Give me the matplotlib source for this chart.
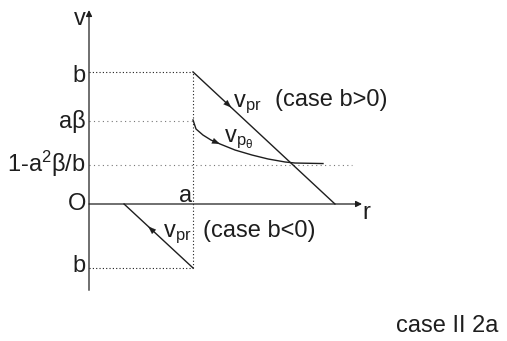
import numpy as np
import matplotlib.pyplot as plt

plt.rcParams['font.family'] = ['Liberation Sans', 'DejaVu Sans']
plt.rcParams['mathtext.fontset'] = 'custom'
plt.rcParams['mathtext.rm'] = 'Liberation Sans'
plt.rcParams['mathtext.it'] = 'Liberation Sans'

# levels and positions (units: a = 1)
a = 1.0
b_pos = 1.27
a_beta = 0.80
v_inf = 0.375          # 1 - a^2 beta / b
b_neg = -0.615

# v_pr, case b > 0
vpr_up_r = [1.0, 2.365]
vpr_up_v = [1.27, 0.0]
# v_pr, case b < 0
vpr_lo_r = [0.337, 1.0]
vpr_lo_v = [0.0, -0.615]
# v_p_theta curve
vpt_r = [1.0, 1.029, 1.096, 1.173, 1.26, 1.404, 1.567, 1.721, 1.885, 1.981, 2.25]
vpt_v = [0.808, 0.721, 0.663, 0.615, 0.577, 0.519, 0.471, 0.433, 0.404, 0.394, 0.389]

ink = '#1e1e1e'
fs = 17
head = '-|>,head_length=0.4,head_width=0.15'

fig = plt.figure(figsize=(5.07, 3.41), dpi=100)
ax = fig.add_axes([0, 0, 1, 1])
ax.set_xlim(-89 / 104, 418 / 104)
ax.set_ylim(-137 / 104, 204 / 104)
ax.axis('off')

def arrow(x0, y0, x1, y1, lw=1.0, ms=14, style=head):
    ax.annotate('', xy=(x1, y1), xytext=(x0, y0),
                arrowprops=dict(arrowstyle=style, color=ink, lw=lw,
                                shrinkA=0, shrinkB=0, mutation_scale=ms))

# axes
arrow(0, -0.83, 0, 1.865, lw=0.9, ms=9, style='-|>')
arrow(0, 0, 2.625, 0, lw=0.9, ms=9, style='-|>')

# dotted guides
ax.plot([0, a], [b_pos, b_pos], color=ink, lw=0.8, ls=(0, (1, 2)))
ax.plot([0, a], [b_neg, b_neg], color=ink, lw=0.8, ls=(0, (1, 2)))
ax.plot([a, a], [b_neg, b_pos], color=ink, lw=0.8, ls=(0, (1, 2)))
ax.plot([0, a], [a_beta, a_beta], color='#777777', lw=0.8, ls=(0, (1, 3)))
ax.plot([0, 2.53], [v_inf, v_inf], color='#777777', lw=0.8, ls=(0, (1, 3)))

# curves
ax.plot(vpr_up_r, vpr_up_v, color=ink, lw=1.0)
ax.plot(vpr_lo_r, vpr_lo_v, color=ink, lw=1.0)
ax.plot(vpt_r, vpt_v, color=ink, lw=1.0)

# direction arrows on the straight lines
def mid_arrow(xs, ys, frac, reverse=False):
    x0, x1 = xs
    y0, y1 = ys
    x = x0 + frac * (x1 - x0)
    y = y0 + frac * (y1 - y0)
    dx, dy = x1 - x0, y1 - y0
    n = np.hypot(dx, dy)
    dx, dy = dx / n * 0.06, dy / n * 0.06
    if reverse:
        dx, dy = -dx, -dy
    arrow(x - dx, y - dy, x, y, lw=0.1)

mid_arrow(vpr_up_r, vpr_up_v, 0.27)
mid_arrow(vpr_lo_r, vpr_lo_v, 0.35, reverse=True)
# arrow on v_p_theta
arrow(vpt_r[3], vpt_v[3], vpt_r[4], vpt_v[4], lw=0.1)

# axis labels
ax.text(-0.029, 1.721, 'v', fontsize=fs, ha='right', va='baseline', color=ink)
ax.text(-0.029, 1.173, 'b', fontsize=fs, ha='right', va='baseline', color=ink)
ax.text(-0.029, 0.731, 'aβ', fontsize=fs, ha='right', va='baseline', color=ink)
ax.text(-0.029, 0.308, '1-a$^{2}$β/b', fontsize=fs, ha='right', va='baseline', color=ink)
ax.text(-0.029, 0.0, 'O', fontsize=fs, ha='right', va='center', color=ink)
ax.text(-0.029, -0.654, 'b', fontsize=fs, ha='right', va='baseline', color=ink)
ax.text(0.995, 0.019, 'a', fontsize=fs, ha='right', va='baseline', color=ink)
ax.text(2.625, -0.144, 'r', fontsize=fs, ha='left', va='baseline', color=ink)

# curve labels
ax.text(1.385, 0.933, r'$\mathrm{v_{pr}}$', fontsize=fs, ha='left', va='baseline', color=ink)
ax.text(1.788, 0.945, '(case b>0)', fontsize=fs, ha='left', va='baseline', color=ink)
ax.text(1.298, 0.596, r'$\mathrm{v_{p_{θ}}}$', fontsize=fs, ha='left', va='baseline', color=ink)
ax.text(0.712, -0.317, r'$\mathrm{v_{pr}}$', fontsize=fs, ha='left', va='baseline', color=ink)
ax.text(1.096, -0.317, '(case b<0)', fontsize=fs, ha='left', va='baseline', color=ink)

ax.text(2.952, -1.233, 'case II 2a', fontsize=fs, ha='left', va='baseline', color=ink)

fig.savefig('out.png', dpi=100)
